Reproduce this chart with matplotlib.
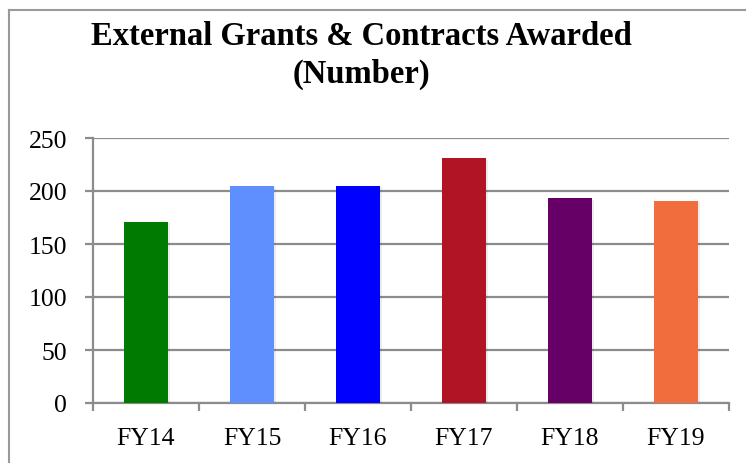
import matplotlib
matplotlib.use("Agg")
import matplotlib.pyplot as plt
from matplotlib.lines import Line2D
import matplotlib.patheffects as pe

categories = ["FY14", "FY15", "FY16", "FY17", "FY18", "FY19"]
values = [171, 205, 205, 231, 193, 191]
colors = ["#007A00", "#5F8FFF", "#0000FF", "#B01425", "#660066", "#F26D3D"]
yticks = [0, 50, 100, 150, 200, 250]
title_lines = ["External Grants & Contracts Awarded", "(Number)"]

W, H = 746, 464
fig = plt.figure(figsize=(W / 100, H / 100), dpi=100)
ax = fig.add_axes([93 / W, 1 - 404 / H, (729 - 93) / W, (404 - 139) / H])

grey = "#8c8c8c"
x = list(range(len(categories)))
bars = ax.bar(x, values, width=0.41, color=colors, zorder=3)
for b in bars:
    b.set_path_effects([pe.SimplePatchShadow(offset=(1.5, -1), shadow_rgbFace="#000000", alpha=0.07), pe.Normal()])

ax.set_xlim(-0.5, len(categories) - 0.5)
ax.set_ylim(0, 250)
ax.set_yticks(yticks)
ax.set_yticklabels([str(v) for v in yticks])
ax.set_xticks(x)
ax.set_xticklabels(categories)
ax.set_xticks([i - 0.5 for i in range(len(categories) + 1)], minor=True)

ax.grid(axis="y", color=grey, linewidth=1.6, zorder=0)
ax.set_axisbelow(True)
for s in ["top", "right"]:
    ax.spines[s].set_visible(False)
for s in ["left", "bottom"]:
    ax.spines[s].set_color(grey)
    ax.spines[s].set_linewidth(1.6)

ax.tick_params(axis="y", which="major", length=5.5, width=1.6, color=grey, pad=13, labelsize=18.5)
ax.tick_params(axis="x", which="major", length=0, pad=17, labelsize=18.5)
ax.tick_params(axis="x", which="minor", length=5.5, width=1.6, color=grey)
for lab in ax.get_xticklabels() + ax.get_yticklabels():
    lab.set_fontfamily(["Liberation Serif", "DejaVu Serif"])
    lab.set_color("#000000")

fig.text(361 / W, 1 - 45 / H, title_lines[0], ha="center", va="baseline",
         fontsize=23.5, fontweight="bold", family=["Liberation Serif", "DejaVu Serif"])
fig.text(361 / W, 1 - 83 / H, title_lines[1], ha="center", va="baseline",
         fontsize=23.5, fontweight="bold", family=["Liberation Serif", "DejaVu Serif"])

# outer chart frame
fig.add_artist(Line2D([9 / W, 1.0], [1 - 11 / H, 1 - 11 / H], color="#9a9a9a", lw=1.5, transform=fig.transFigure))
fig.add_artist(Line2D([9 / W, 9 / W], [0, 1 - 11 / H], color="#9a9a9a", lw=1.5, transform=fig.transFigure))

fig.savefig("out.png", dpi=100)
